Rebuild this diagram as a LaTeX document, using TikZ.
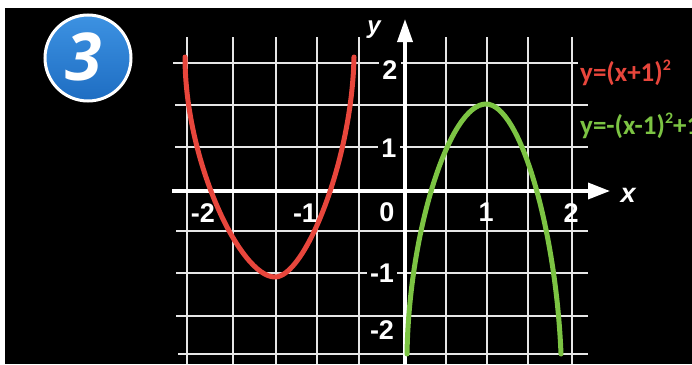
\documentclass[tikz,border=0pt]{standalone}
\usepackage{fontspec}
\setmainfont{Liberation Sans}
\newfontfamily\eqfont{Carlito}
\newfontfamily\badgefont{Open Sans}
\usetikzlibrary{arrows.meta}
\definecolor{curvered}{HTML}{E8463C}
\definecolor{curvegreen}{HTML}{7CC443}
\definecolor{badgelight}{HTML}{3D92E2}
\definecolor{badgedark}{HTML}{1E6DC2}
\definecolor{gridwhite}{HTML}{E6E6E6}
\newcommand{\sqr}{\raisebox{0.42em}{\fontsize{16}{16}\selectfont 2}}
\begin{document}
\begin{tikzpicture}[x=1pt,y=-1pt,
  gridline/.style={gridwhite, line width=2pt},
  axisline/.style={white, line width=3.5pt},
  ticklabel/.style={text=white, font=\fontsize{27}{27}\selectfont\bfseries, inner sep=0pt},
  yticklabel/.style={ticklabel, fill=black, inner sep=3pt},
  curveline/.style={line width=5pt, line cap=round, line join=round},
  eqlabel/.style={anchor=west, inner sep=0pt, font=\eqfont\bfseries\fontsize{27}{27}\selectfont}
]
\useasboundingbox (0,0) rectangle (692,364);
\fill[white] (0,0) rectangle (692,364);
\fill[black] (5,8) rectangle (692,364);

% grid
\foreach \x in {187,233,276,317,359,446,487,528,572}
  \draw[gridline] (\x,37) -- (\x,364);
\draw[gridline] (173,63) -- (578,63);
\foreach \y in {105,147}
  \draw[gridline] (175,\y) -- (588,\y);
\foreach \y in {231,273,316}
  \draw[gridline] (176,\y) -- (588,\y);
\draw[gridline] (178,354) -- (588,354);

% axes
\coordinate (xstart) at (172,191);
\coordinate (xend) at (610,191);
\coordinate (ybot) at (405,364);
\coordinate (ytop) at (405,19);
\draw[axisline, -{Triangle[length=22pt,width=16pt]}] (xstart) -- (xend);
\draw[axisline, -{Triangle[length=23pt,width=15pt]}] (ybot) -- (ytop);

% curves
\coordinate (redL) at (185,57);
\coordinate (redV) at (275,277);
\coordinate (redR) at (354,57);
\draw[curveline, curvered] (redL) .. controls (185,160) and (240,277) .. (redV)
  .. controls (305,277) and (352,160) .. (redR);
\coordinate (grnL) at (407,354);
\coordinate (grnV) at (486,104);
\coordinate (grnR) at (561,354);
\draw[curveline, curvegreen] (grnL) .. controls (409,230) and (450,104) .. (grnV)
  .. controls (520,104) and (556,230) .. (grnR);

% tick labels
\node[yticklabel] (ly2) at (390,70) {2};
\node[yticklabel] (ly1) at (389,148) {1};
\node[yticklabel] (lym1) at (382,273) {-1};
\node[yticklabel] (lym2) at (382,330) {-2};
\node[ticklabel] (lxm2) at (203,213) {-2};
\node[ticklabel] (lxm1) at (305,213) {-1};
\node[ticklabel] (lx0) at (387,212) {0};
\node[ticklabel] (lx1) at (486,212) {1};
\node[ticklabel] (lx2) at (571,213) {2};

% axis names
\node[text=white, inner sep=0pt, font=\fontsize{27}{27}\selectfont\bfseries\itshape] (xname) at (628,195) {x};
\node[text=white, inner sep=0pt, font=\fontsize{24}{24}\selectfont\bfseries\itshape] (yname) at (374,30) {y};

% equations
\node[eqlabel, text=curvered] (eqred) at (580,73) {y=(x+1)\sqr};
\node[eqlabel, text=curvegreen] (eqgreen) at (580,126) {y=-(x-1)\sqr+1};

% badge
\shade[top color=badgelight, bottom color=badgedark] (88,58) circle[radius=43pt];
\node[circle, draw=white, line width=3pt, minimum size=86pt, inner sep=0pt] (badge) at (88,58) {};
\node[text=white, inner sep=0pt, font=\badgefont\fontsize{66}{66}\selectfont\bfseries\itshape] (badgenum) at (84,57) {3};
\end{tikzpicture}
\end{document}
